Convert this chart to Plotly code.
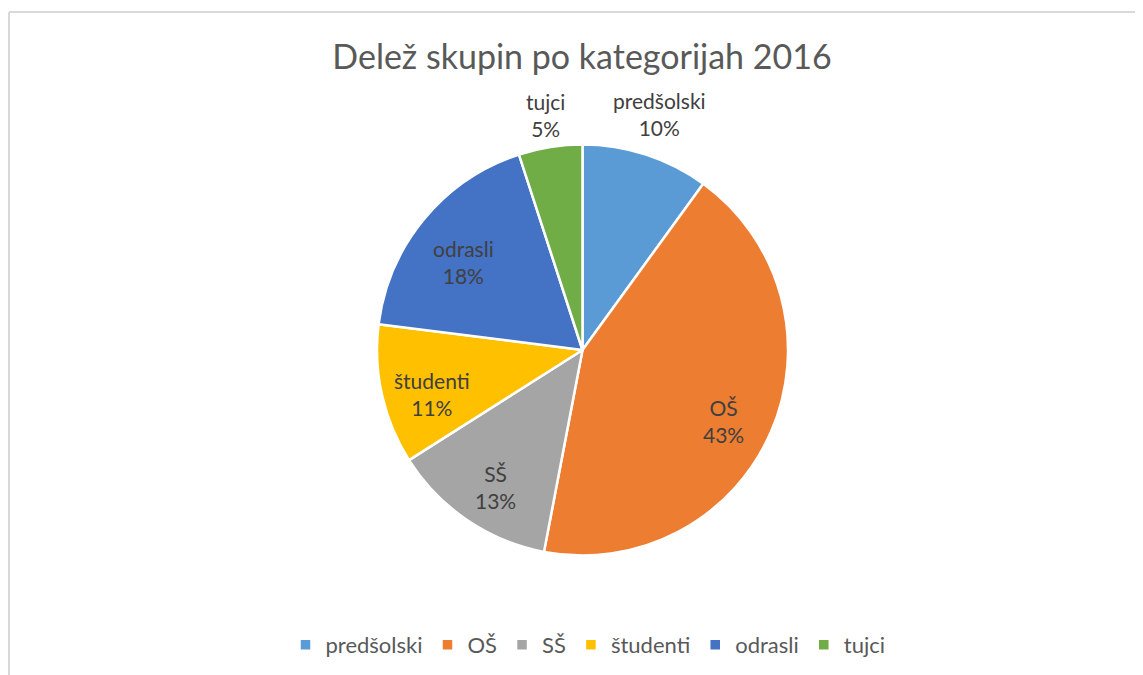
import math
import plotly.graph_objects as go

categories = ["predšolski", "OŠ", "SŠ", "študenti", "odrasli", "tujci"]
shares = [10, 43, 13, 11, 18, 5]
colors = ["#5B9BD5", "#ED7D31", "#A5A5A5", "#FFC000", "#4472C4", "#70AD47"]
label_outside = [True, False, False, False, False, True]
title_text = "Delež skupin po kategorijah 2016"

W, H = 1143, 675
# the page body adds an 8px offset; geometry below is in figure pixels
cx, cy, R = 574.5, 342, 205.5
R_IN = 0.75          # inside labels: fraction of radius
IN_DROP = 10         # inside labels sit slightly lower (px)
OUT_GAP = 1          # outside labels: gap between pie edge and label box (px)
LABEL_SIZE = 21

fig = go.Figure(go.Pie(
    labels=categories,
    values=shares,
    sort=False,
    direction="clockwise",
    rotation=0,
    marker=dict(colors=colors, line=dict(color="white", width=2.5)),
    textinfo="none",
    domain=dict(x=[(cx - R) / W, (cx + R) / W], y=[1 - (cy + R) / H, 1 - (cy - R) / H]),
    hoverinfo="label+percent",
))

# data labels placed along each slice's mid-angle (computed from the values)
total = sum(shares)
annotations = []
cum = 0
for name, v, outside in zip(categories, shares, label_outside):
    mid = (cum + v / 2) / total * 2 * math.pi
    cum += v
    pct = f"{round(v / total * 100)}%"
    s, c = math.sin(mid), math.cos(mid)
    if outside:
        half_w = 0.45 * LABEL_SIZE * max(len(name), len(pct)) / 2
        half_h = 1.33 * LABEL_SIZE
        r = R + OUT_GAP + half_w * abs(s) + half_h * abs(c)
        px, py = cx + r * s, cy - r * c
    else:
        r = R * R_IN
        px, py = cx + r * s, cy - r * c + IN_DROP
    annotations.append(dict(
        x=px / W, y=1 - py / H, xref="paper", yref="paper",
        text=f"{name}<br>{pct}", showarrow=False,
        xanchor="center", yanchor="middle", align="center",
        font=dict(family="Lato", size=LABEL_SIZE, color="#404040"),
    ))

fig.update_layout(
    width=W, height=H,
    margin=dict(l=0, r=0, t=0, b=0),
    paper_bgcolor="white",
    title=dict(text=title_text, x=574 / W, xanchor="center", y=1 - 49 / H, yanchor="middle",
               font=dict(family="Lato", size=34, color="#595959")),
    legend=dict(orientation="h", x=580 / W, xanchor="center", y=1 - 637 / H, yanchor="middle",
                font=dict(family="Lato", size=22, color="#595959"), traceorder="normal"),
    annotations=annotations,
    shapes=[
        dict(type="line", xref="paper", yref="paper", x0=1 / W, x1=1, y0=1 - 4 / H, y1=1 - 4 / H,
             line=dict(color="#D9D9D9", width=2)),
        dict(type="line", xref="paper", yref="paper", x0=1 / W, x1=1 / W, y0=0, y1=1 - 4 / H,
             line=dict(color="#D9D9D9", width=2)),
    ],
)

fig.write_html("out.html")
